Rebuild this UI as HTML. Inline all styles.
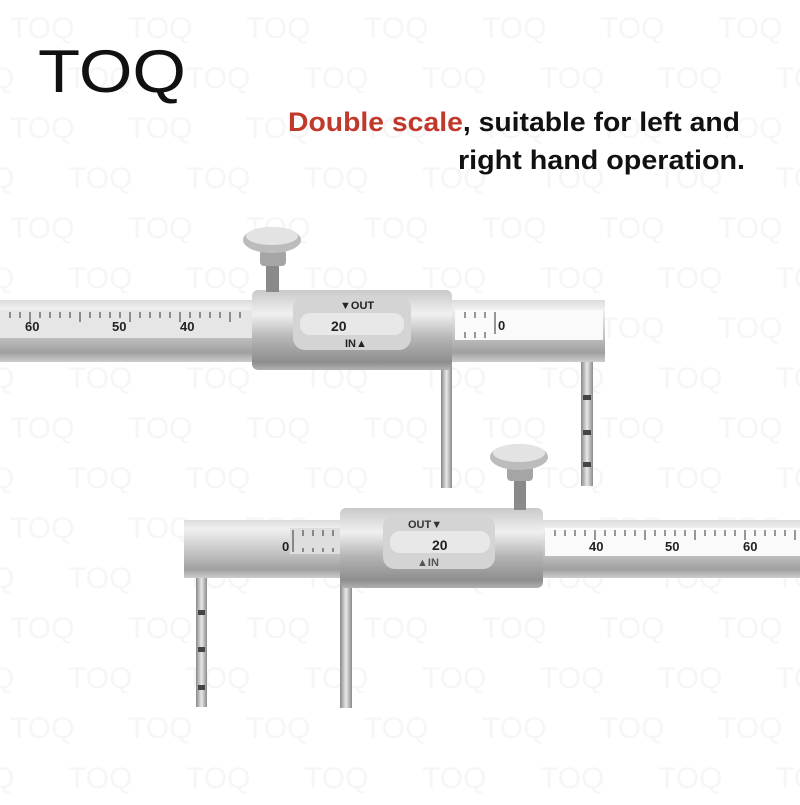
<!DOCTYPE html>
<html><head><style>
body{margin:0;width:800px;height:800px;overflow:hidden;background:#fff;font-family:"Liberation Sans",sans-serif}
</style></head><body>
<svg width="800" height="800" xmlns="http://www.w3.org/2000/svg">
<defs>
<linearGradient id="bar" x1="0" y1="0" x2="0" y2="1">
<stop offset="0" stop-color="#dcdcdc"/><stop offset="0.15" stop-color="#f0f0f0"/><stop offset="0.6" stop-color="#c0c0c0"/><stop offset="0.85" stop-color="#a0a0a0"/><stop offset="1" stop-color="#cccccc"/></linearGradient>
<linearGradient id="sl" x1="0" y1="0" x2="0" y2="1">
<stop offset="0" stop-color="#c9c9c9"/><stop offset="0.3" stop-color="#f0f0f0"/><stop offset="0.6" stop-color="#b5b5b5"/><stop offset="0.9" stop-color="#8e8e8e"/><stop offset="1" stop-color="#b0b0b0"/></linearGradient>
<linearGradient id="pr" x1="0" y1="0" x2="1" y2="0">
<stop offset="0" stop-color="#888"/><stop offset="0.5" stop-color="#e8e8e8"/><stop offset="1" stop-color="#8a8a8a"/></linearGradient>
<pattern id="wm" width="118" height="100" patternUnits="userSpaceOnUse">
<text x="10" y="38" font-size="30" fill="#f6f6f6" font-family="Liberation Sans">TOQ</text>
<text x="-50" y="88" font-size="30" fill="#f6f6f6" font-family="Liberation Sans">TOQ</text>
<text x="68" y="88" font-size="30" fill="#f6f6f6" font-family="Liberation Sans">TOQ</text>
</pattern>
</defs>
<rect width="800" height="800" fill="url(#wm)"/>
<text x="38" y="92" font-size="60" fill="#111" font-family="Liberation Sans" textLength="148" lengthAdjust="spacingAndGlyphs">TOQ</text>
<text x="288" y="131" font-size="27" font-weight="bold" fill="#111" textLength="452" lengthAdjust="spacingAndGlyphs"><tspan fill="#c0392b">Double scale</tspan>, suitable for left and</text>
<text x="458" y="169" font-size="27" font-weight="bold" fill="#111" textLength="287" lengthAdjust="spacingAndGlyphs">right hand operation.</text>

<!-- upper caliper -->
<rect x="441" y="360" width="11" height="128" fill="url(#pr)"/>
<rect x="581" y="352" width="12" height="134" fill="url(#pr)"/>
<rect x="583" y="395" width="8" height="5" fill="#444"/><rect x="583" y="430" width="8" height="5" fill="#444"/><rect x="583" y="462" width="8" height="5" fill="#444"/>
<rect x="0" y="300" width="605" height="62" fill="url(#bar)"/>
<rect x="0" y="310" width="252" height="28" fill="#e6e6e6"/>
<rect x="455" y="310" width="148" height="30" fill="#fafafa"/>
<g stroke="#333" stroke-width="1">
<path d="M10 312v6M20 312v6M30 312v10M40 312v6M50 312v6M60 312v6M70 312v6M80 312v10M90 312v6M100 312v6M110 312v6M120 312v6M130 312v10M140 312v6M150 312v6M160 312v6M170 312v6M180 312v10M190 312v6M200 312v6M210 312v6M220 312v6M230 312v10M240 312v6"/>
<path d="M465 312v6M475 312v6M485 312v6M495 312v22M465 338v-6M475 338v-6M485 338v-6"/>
</g>
<text x="25" y="331" font-size="13" font-weight="bold" fill="#222">60</text>
<text x="112" y="331" font-size="13" font-weight="bold" fill="#222">50</text>
<text x="180" y="331" font-size="13" font-weight="bold" fill="#222">40</text>
<text x="498" y="330" font-size="13" font-weight="bold" fill="#222">0</text>
<rect x="252" y="290" width="200" height="80" rx="6" fill="url(#sl)"/>
<rect x="293" y="296" width="118" height="54" rx="12" fill="#d4d4d4"/>
<rect x="300" y="313" width="104" height="22" rx="10" fill="#e8e8e8"/>
<text x="340" y="309" font-size="11" font-weight="bold" fill="#222">▼OUT</text>
<text x="331" y="331" font-size="14" font-weight="bold" fill="#222">20</text>
<text x="345" y="347" font-size="11" font-weight="bold" fill="#222">IN▲</text>
<rect x="266" y="262" width="13" height="30" fill="#8a8a8a"/>
<rect x="260" y="250" width="26" height="16" rx="4" fill="#a5a5a5"/>
<ellipse cx="272" cy="240" rx="29" ry="13" fill="#bcbcbc"/>
<ellipse cx="272" cy="236" rx="26" ry="9" fill="#e3e3e3"/>

<!-- lower caliper -->
<rect x="196" y="570" width="11" height="137" fill="url(#pr)"/>
<rect x="198" y="610" width="7" height="5" fill="#444"/><rect x="198" y="647" width="7" height="5" fill="#444"/><rect x="198" y="685" width="7" height="5" fill="#444"/>
<rect x="340" y="580" width="12" height="128" fill="url(#pr)"/>
<rect x="184" y="520" width="616" height="58" fill="url(#bar)"/>
<rect x="290" y="528" width="52" height="26" fill="#dedede"/>
<rect x="545" y="528" width="255" height="28" fill="#fafafa"/>
<g stroke="#333" stroke-width="1">
<path d="M293 530v22M303 530v6M313 530v6M323 530v6M333 530v6M303 552v-4M313 552v-4M323 552v-4M333 552v-4"/>
<path d="M555 530v6M565 530v6M575 530v6M585 530v6M595 530v10M605 530v6M615 530v6M625 530v6M635 530v6M645 530v10M655 530v6M665 530v6M675 530v6M685 530v6M695 530v10M705 530v6M715 530v6M725 530v6M735 530v6M745 530v10M755 530v6M765 530v6M775 530v6M785 530v6M795 530v10"/>
</g>
<text x="282" y="551" font-size="13" font-weight="bold" fill="#222">0</text>
<text x="589" y="551" font-size="13" font-weight="bold" fill="#222">40</text>
<text x="665" y="551" font-size="13" font-weight="bold" fill="#222">50</text>
<text x="743" y="551" font-size="13" font-weight="bold" fill="#222">60</text>
<rect x="340" y="508" width="203" height="80" rx="6" fill="url(#sl)"/>
<rect x="383" y="515" width="112" height="54" rx="12" fill="#d4d4d4"/>
<rect x="390" y="531" width="100" height="22" rx="10" fill="#e8e8e8"/>
<text x="408" y="528" font-size="11" font-weight="bold" fill="#333">OUT▼</text>
<text x="432" y="550" font-size="14" font-weight="bold" fill="#222">20</text>
<text x="417" y="566" font-size="11" font-weight="bold" fill="#555">▲IN</text>
<rect x="514" y="478" width="12" height="32" fill="#8a8a8a"/>
<rect x="507" y="465" width="26" height="16" rx="4" fill="#a5a5a5"/>
<ellipse cx="519" cy="457" rx="29" ry="13" fill="#bcbcbc"/>
<ellipse cx="519" cy="453" rx="26" ry="9" fill="#e3e3e3"/>
</svg>
</body></html>
